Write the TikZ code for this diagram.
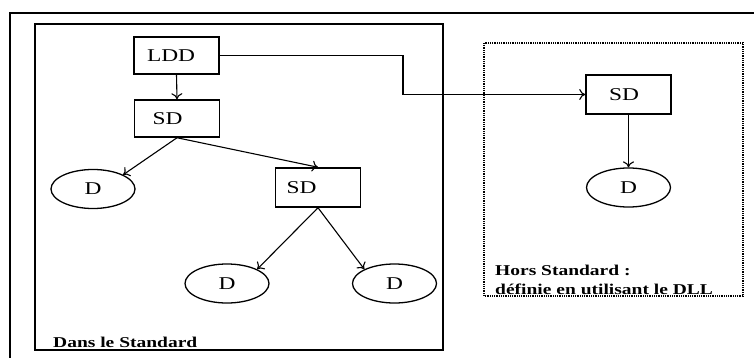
\documentclass[tikz,border=0pt]{standalone}
\usepackage{fontspec}
\setmainfont{Liberation Serif}[FakeStretch=1.3]
\usetikzlibrary{arrows.meta,shapes.geometric}
\begin{document}
\begin{tikzpicture}[x=1pt,y=-1pt,
  boxnode/.style={draw,line width=1.5pt,minimum height=37pt,text width=85pt,inner xsep=0pt,align=left,font=\fontsize{18}{20}\selectfont},
  dnode/.style={draw,ellipse,line width=1.3pt,minimum width=84pt,minimum height=39pt,inner sep=0pt,font=\fontsize{18}{20}\selectfont},
  conn/.style={line width=1.1pt,-{To[length=6pt,width=11pt]}},
  caption/.style={font=\fontsize{15}{17}\selectfont\bfseries,inner sep=0pt,anchor=base west}]
\useasboundingbox (0,0) rectangle (754,358);
\fill[white] (0,0) rectangle (754,358);
% frames
\draw[line width=2.2pt] (10,358) -- (10,13) -- (754,13);
\draw[line width=2.2pt] (35,24) rectangle (443,350);
\draw[line width=1.1pt,dash pattern=on 1pt off 0.8pt] (484,43) rectangle (743,296);
% nodes
\node[boxnode] (ldd) at (176.5,55.5) {\hspace*{13pt}LDD};
\node[boxnode] (sd1) at (177,118.5) {\hspace*{18pt}SD};
\node[boxnode,minimum height=39pt] (sd2) at (318,187.5) {\hspace*{11pt}SD};
\node[boxnode,minimum height=39pt] (sd3) at (628.5,94.5) {\hspace*{23pt}SD};
\node[dnode] (d1) at (93,189) {D};
\node[dnode] (d2) at (227,283.5) {D};
\node[dnode] (d3) at (394.5,283.5) {D};
\node[dnode] (d4) at (628.5,187.5) {D};
\coordinate (bend) at (403,75);
% connectors
\draw[conn] (ldd.south) -- (sd1.north);
\draw[conn] (sd1.south) -- (d1.north east);
\draw[conn] (sd1.south) -- (sd2.north);
\draw[conn] (sd2.south) -- (d2.north east);
\draw[conn] (sd2.south) -- (d3.north west);
\draw[conn] (ldd.east) -| (bend) |- (sd3.west);
\draw[conn] (sd3.south) -- (d4.north);
% captions
\node[caption] (cin) at (53,347) {Dans le Standard};
\node[caption] (chs) at (495,275) {Hors Standard :};
\node[caption] (cdef) at (495,294.5) {définie en utilisant le DLL};
\end{tikzpicture}
\end{document}
